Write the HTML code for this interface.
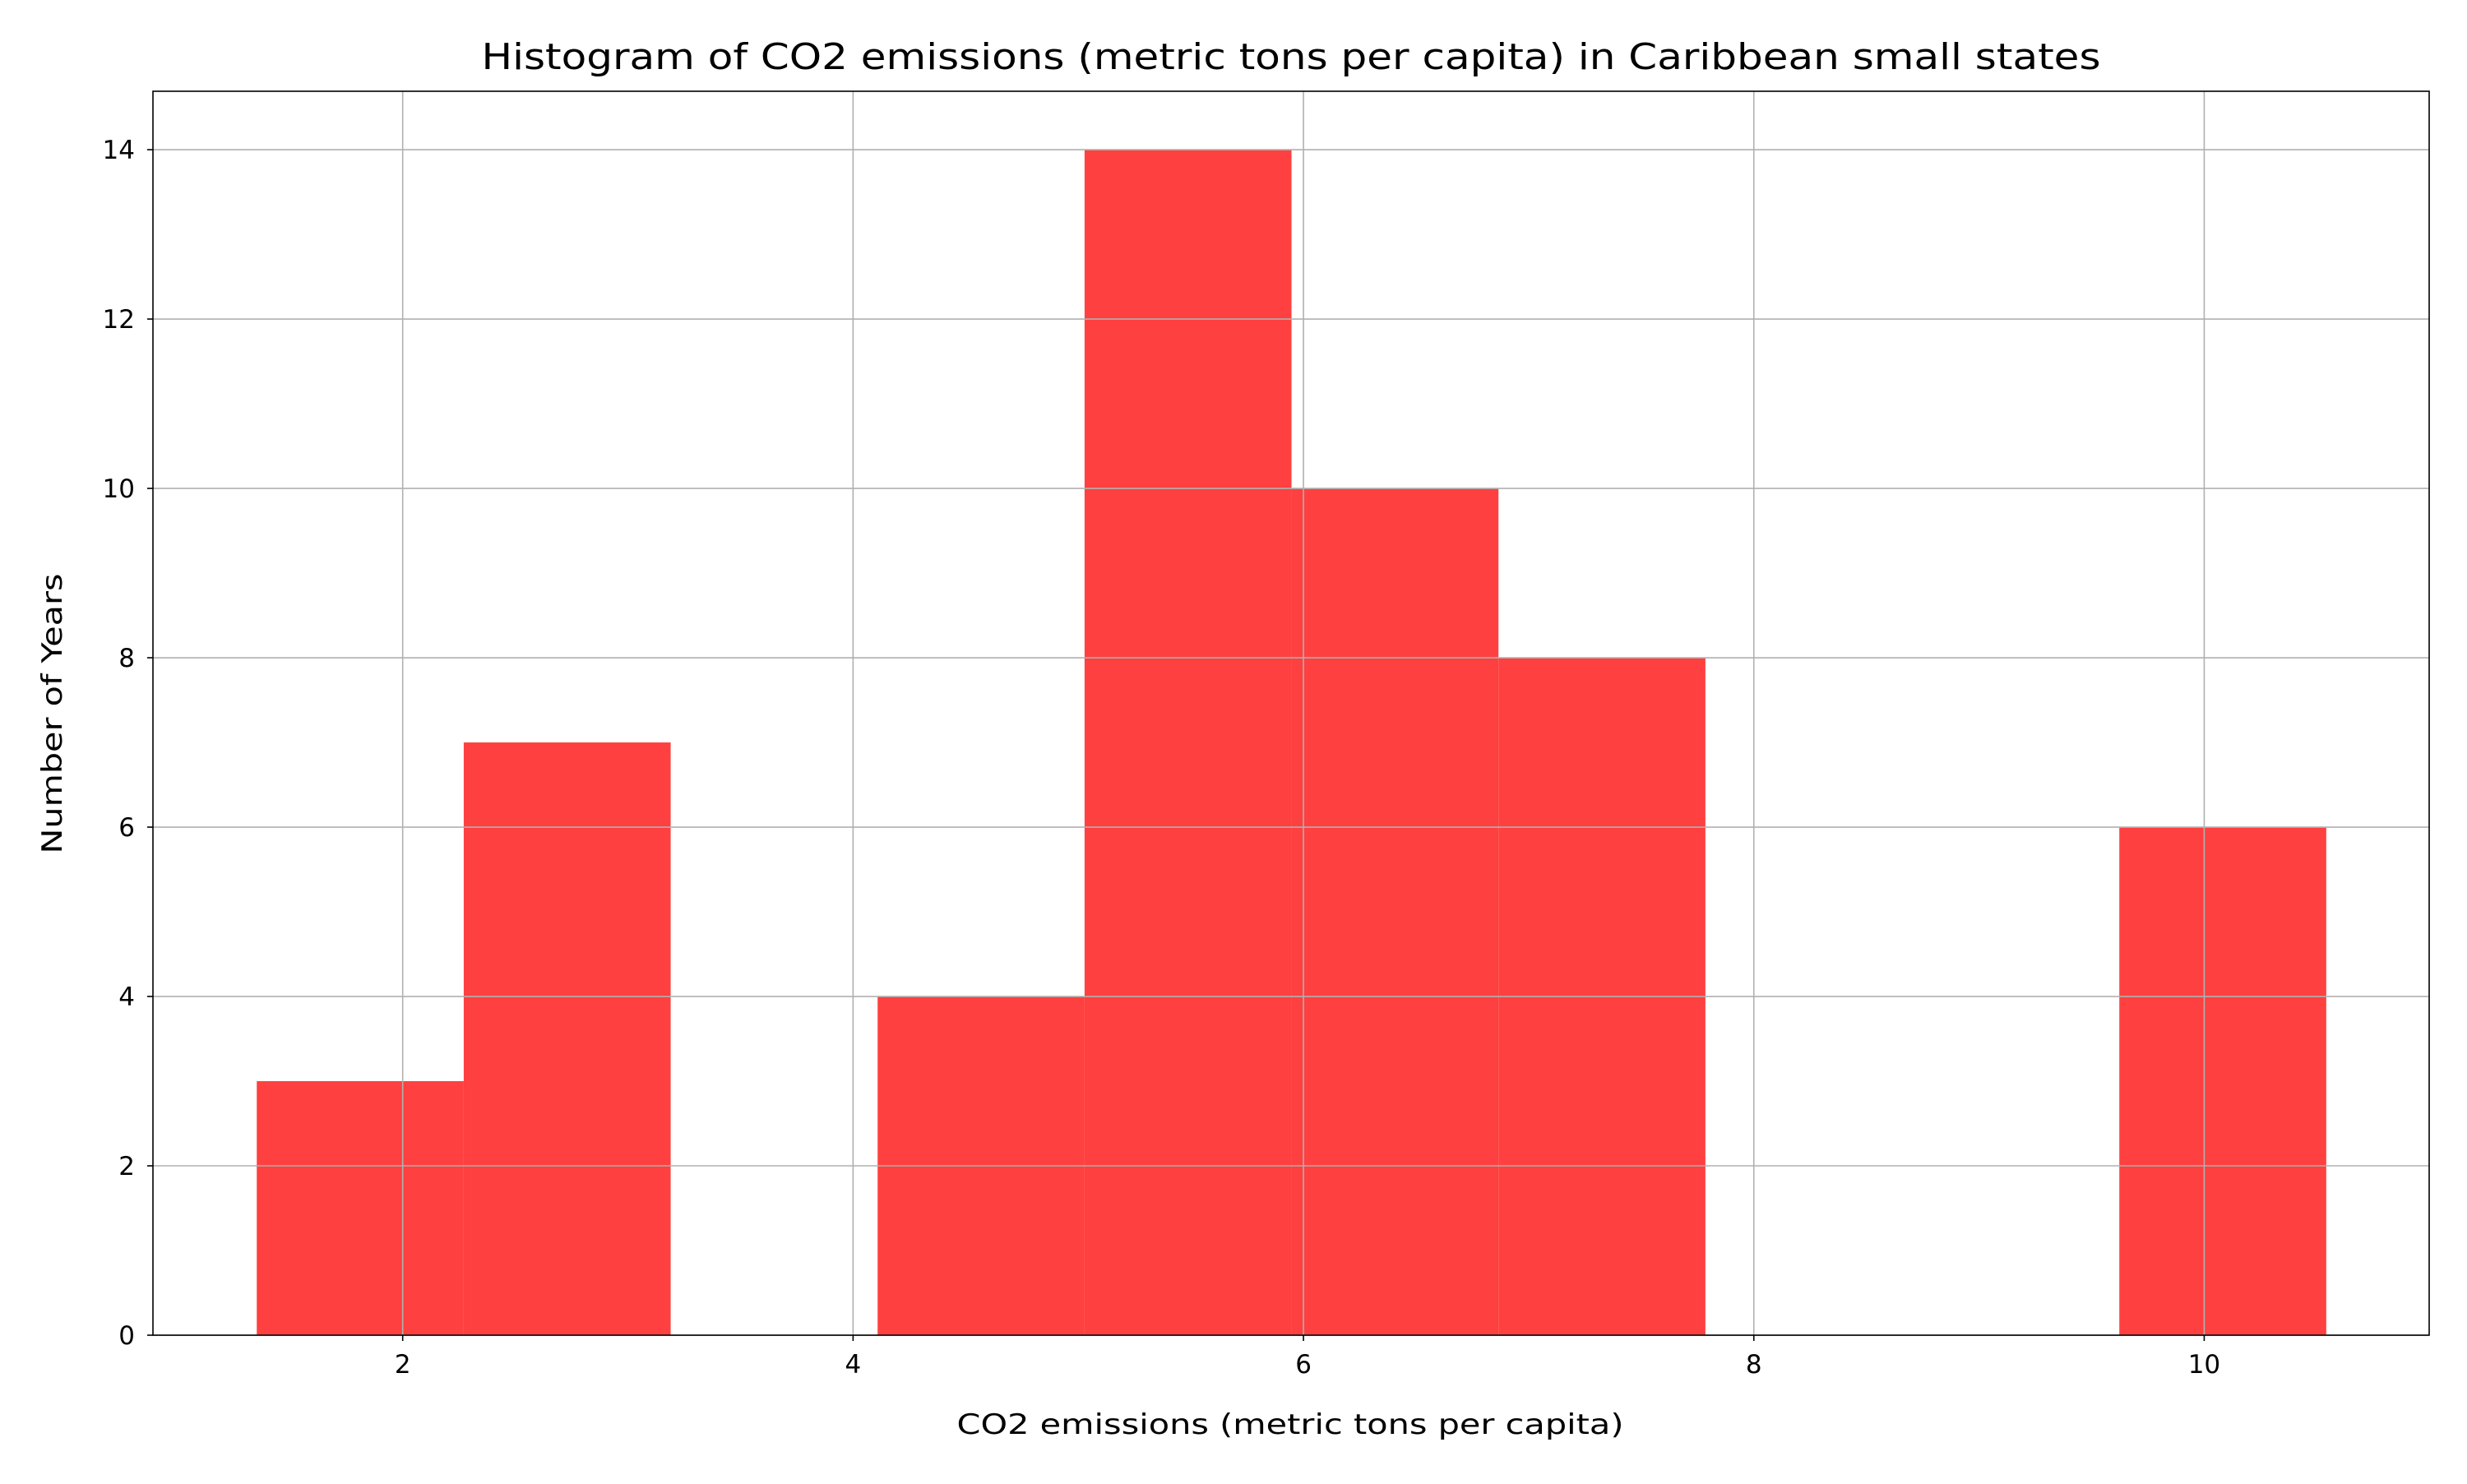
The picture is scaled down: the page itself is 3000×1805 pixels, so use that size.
<!DOCTYPE html>
<html><head><meta charset="utf-8"><style>
html,body{margin:0;padding:0;background:#fff;}
svg text{font-family:"DejaVu Sans","Liberation Sans",sans-serif;fill:#000;}
</style></head><body>
<svg id="chart" width="3000" height="1800" viewBox="0 0 3000 1800" xmlns="http://www.w3.org/2000/svg">
<rect x="0" y="0" width="3000" height="1800" fill="#fff"/>
<g id="bars"></g>
<g id="grid"></g>
<g id="axes"></g>
<text x="1570" y="84" font-size="44" text-anchor="middle" textLength="1969" lengthAdjust="spacingAndGlyphs">Histogram of CO2 emissions (metric tons per capita) in Caribbean small states</text>
<text x="1569" y="1744" font-size="34" text-anchor="middle" textLength="811" lengthAdjust="spacingAndGlyphs">CO2 emissions (metric tons per capita)</text>
<text x="0" y="0" font-size="34" text-anchor="middle" textLength="341" lengthAdjust="spacingAndGlyphs" transform="translate(75,868) rotate(-90)">Number of Years</text>
</svg>
<script>
const binStart = 1.352;
const binWidth = 0.919;
const counts = [3, 7, 0, 4, 14, 10, 8, 0, 0, 6];
const xTicks = [2, 4, 6, 8, 10];
const yTicks = [0, 2, 4, 6, 8, 10, 12, 14];

const L = 186, R = 2954, T = 111, B = 1624;
const xMin = 0.891, xMax = 10.999, yMin = 0, yMax = 14.69;
const NS = "http://www.w3.org/2000/svg";
function xs(v){ return L + (v - xMin) / (xMax - xMin) * (R - L); }
function ys(v){ return B - (v - yMin) / (yMax - yMin) * (B - T); }
function mk(tag, attrs, parent){
  const e = document.createElementNS(NS, tag);
  for (const k in attrs) e.setAttribute(k, attrs[k]);
  parent.appendChild(e); return e;
}
const bars = document.getElementById('bars');
const grid = document.getElementById('grid');
const axes = document.getElementById('axes');

counts.forEach((c, i) => {
  if (c <= 0) return;
  const x0 = xs(binStart + i * binWidth), x1 = xs(binStart + (i + 1) * binWidth);
  const r = mk('rect', {x: x0, y: ys(c), width: x1 - x0, height: ys(0) - ys(c), fill: '#ff4040'}, bars);
  
  
});

xTicks.forEach(t => {
  const x = xs(t);
  const g = mk('line', {x1: x, x2: x, y1: T, y2: B, stroke: '#b0b0b0', 'stroke-width': 1.6}, grid);
  
  
  mk('line', {x1: x, x2: x, y1: B, y2: B + 7, stroke: '#000', 'stroke-width': 1.6}, axes);
  const tx = mk('text', {x: x, y: B + 46, 'font-size': 31, 'text-anchor': 'middle'}, axes);
  tx.textContent = t;
  
  
});
yTicks.forEach(t => {
  const y = ys(t);
  const g = mk('line', {x1: L, x2: R, y1: y, y2: y, stroke: '#b0b0b0', 'stroke-width': 1.6}, grid);
  
  
  mk('line', {x1: L - 7, x2: L, y1: y, y2: y, stroke: '#000', 'stroke-width': 1.6}, axes);
  const tx = mk('text', {x: L - 22, y: y + 11, 'font-size': 31, 'text-anchor': 'end'}, axes);
  tx.textContent = t;
  
  
});
const frame = mk('rect', {x: L, y: T, width: R - L, height: B - T, fill: 'none', stroke: '#000', 'stroke-width': 1.6}, axes);


</script>
</body></html>
